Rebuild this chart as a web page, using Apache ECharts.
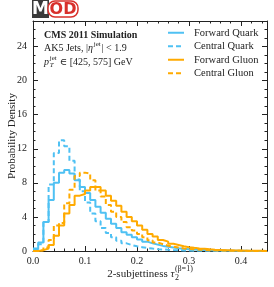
<!DOCTYPE html>
<html><head><meta charset="utf-8">
<script src="https://cdn.jsdelivr.net/npm/echarts@6/dist/echarts.min.js"></script>
<style>html,body{margin:0;padding:0;background:#fff}#c{width:274px;height:287px}</style>
</head><body><div id="c"></div>
<script>
// bin width 0.01, left edges start at 0.0
var binWidth = 0.01;
var xTicks = ['0.0','0.1','0.2','0.3','0.4'];
var yTicks = [0,4,8,12,16,20,24];
var seriesNames = ['Forward Quark','Central Quark','Forward Gluon','Central Gluon'];
var forwardQuark = [0.2,1.0,3.4,6.0,8.0,9.2,9.5,9.1,8.3,7.5,6.8,6.0,5.2,4.5,3.8,3.2,2.7,2.2,1.9,1.6,1.35,1.1,0.9,0.75,0.6,0.5,0.4,0.32,0.26,0.21,0.17,0.14,0.11,0.09,0.07,0.06,0.05,0.04,0.03,0.02,0.02,0.01,0.01,0.01,0.0];
var centralQuark = [0.3,0.8,3.4,7.8,11.5,13.0,12.3,10.6,8.4,7.0,5.7,4.4,3.5,2.7,2.1,1.6,1.2,0.9,0.7,0.55,0.45,0.35,0.28,0.22,0.18,0.14,0.11,0.09,0.07,0.05,0.04,0.03,0.03,0.02,0.02,0.01,0.01,0.01,0,0,0,0,0,0,0];
var forwardGluon = [0,0.1,0.3,0.7,1.8,3.0,4.4,5.4,6.5,6.7,7.1,7.5,7.5,7.1,6.5,5.9,5.3,4.6,4.0,3.5,3.0,2.5,2.0,1.7,1.3,1.1,0.85,0.7,0.55,0.45,0.37,0.3,0.25,0.2,0.16,0.13,0.1,0.08,0.06,0.05,0.04,0.03,0.02,0.02,0.01];
var centralGluon = [0,0.1,0.4,1.3,3.0,3.3,5.6,7.2,8.8,9.2,9.1,8.3,7.1,6.4,5.4,4.6,4.0,3.4,2.8,2.4,2.0,1.6,1.25,1.0,0.8,0.62,0.5,0.4,0.3,0.25,0.2,0.16,0.12,0.1,0.08,0.06,0.05,0.04,0.03,0.02,0.02,0.01,0.01,0.01,0];

var CYAN = '#4fc1f3', ORANGE = '#ffaa00', INK = '#222';
var SERIF = "'Liberation Serif','DejaVu Serif',serif";

var ctx = document.createElement('canvas').getContext('2d');
function tw(t, font){ ctx.font = font; return ctx.measureText(t).width; }

function hist(vals){
  var d = vals.map(function(v,i){ return [+(i*binWidth).toFixed(4), v]; });
  d.push([+(vals.length*binWidth).toFixed(4), vals[vals.length-1]]);
  return d;
}
function mk(name, vals, color, dashed){
  return {name:name, type:'line', step:'end', symbol:'none', data:hist(vals),
    lineStyle:{color:color, width:2, type: dashed ? [5,3] : 'solid'},
    itemStyle:{color:color}, animation:false, clip:true};
}
var xMin = 0, xMax = 0.45, yMin = 0, yMax = 27;
function xAx(pos, show){
  return {type:'value', position:pos, min:xMin, max:xMax, interval:0.1,
    axisLine:{show:true, onZero:false, lineStyle:{color:INK, width:1}},
    axisTick:{show:true, inside:true, length:5, lineStyle:{color:INK}},
    minorTick:{show:true, splitNumber:5, length:2.5, lineStyle:{color:INK}},
    splitLine:{show:false},
    axisLabel:{show:show, showMaxLabel:false, margin:5, color:INK, fontFamily:SERIF, fontSize:10,
      formatter:function(v){ var i=Math.round(v*10); return xTicks[i]!==undefined?xTicks[i]:''; }}};
}
function yAx(pos, show){
  return {type:'value', position:pos, min:yMin, max:yMax, interval:4,
    axisLine:{show:true, onZero:false, lineStyle:{color:INK, width:1}},
    axisTick:{show:true, inside:true, length:5, lineStyle:{color:INK}},
    minorTick:{show:true, splitNumber:4, length:2.5, lineStyle:{color:INK}},
    splitLine:{show:false},
    axisLabel:{show:show, showMaxLabel:false, margin:6, color:INK, fontFamily:SERIF, fontSize:10,
      formatter:function(v){ return yTicks.indexOf(v)>=0 ? String(v) : ''; }}};
}

var F10 = "10px "+SERIF, F10i = "italic 10px "+SERIF, F7 = "7px "+SERIF, F7i = "italic 7px "+SERIF;
var F11 = "11px "+SERIF, F11i = "italic 11px "+SERIF, F8 = "8px "+SERIF, F8i = "italic 8px "+SERIF;
function T(x, y, text, font, extra){
  var s = {text:text, fill:INK, font:font, verticalAlign:'middle'};
  if (extra) for (var k in extra) s[k] = extra[k];
  return {type:'text', x:x, y:y, style:s};
}
var g = [];
// logo
g.push({type:'rect', shape:{x:32, y:0, width:17, height:18}, style:{fill:'#3a3a3a'}});
g.push({type:'text', x:40.5, y:9.5, style:{text:'M', fill:'#fff', font:"bold 17px 'DejaVu Sans',sans-serif", align:'center', verticalAlign:'middle'}});
g.push({type:'rect', shape:{x:48, y:1, width:30, height:16, r:7}, style:{fill:'#fff', stroke:'#d8302b', lineWidth:1.5}});
g.push({type:'text', x:63, y:9.5, style:{text:'OD', fill:'#d8302b', font:"bold 16px 'DejaVu Sans',sans-serif", align:'center', verticalAlign:'middle'}});
// annotation
g.push(T(44, 35, 'CMS 2011 Simulation', "bold 10px "+SERIF));
var x = 44, p1 = 'AK5 Jets, |', y2 = 48.5;
g.push(T(x, y2, p1, F10)); x += tw(p1, F10);
g.push(T(x, y2, 'η', F10i)); x += tw('η', F10i) + 0.8;
g.push(T(x, y2-4, 'jet', F7)); x += tw('jet', F7) + 0.8;
g.push(T(x, y2, '| < 1.9', F10));
x = 44; var y3 = 62;
g.push(T(x, y3, 'p', F10i)); x += tw('p', F10i) + 0.8;
g.push(T(x, y3-4, 'jet', F7));
g.push(T(x, y3+3.5, 'T', F7i)); x += tw('jet', F7) + 3;
g.push(T(x, y3, '∈ [425, 575] GeV', F10));
// y label
g.push({type:'text', x:12, y:136, rotation:Math.PI/2, style:{text:'Probability Density', fill:INK, font:F11, align:'center', verticalAlign:'middle'}});
// x label
var xl = '2-subjettiness ', yL = 274;
var wMain = tw(xl, F11) + tw('τ', F11i) + 0.5 + tw('(β=1)', F8);
x = 150 - wMain/2;
g.push(T(x, yL, xl, F11)); x += tw(xl, F11);
g.push(T(x, yL, 'τ', F11i)); x += tw('τ', F11i) + 0.5;
g.push(T(x, yL+4, '2', F8));
g.push(T(x, yL-5, '(β=1)', F8));

var chart = echarts.init(document.getElementById('c'));
chart.setOption({
  animation:false,
  grid:{left:33, right:7, top:21, bottom:36},
  xAxis:[xAx('bottom', true), xAx('top', false)],
  yAxis:[yAx('left', true), yAx('right', false)],
  legend:{orient:'vertical', left:167, top:27, padding:0, itemWidth:16, itemHeight:8, itemGap:2,
    itemStyle:{opacity:0},
    textStyle:{fontFamily:SERIF, fontSize:10.5, color:INK, padding:[0,0,0,5], lineHeight:11.5},
    data:seriesNames},
  series:[mk(seriesNames[0], forwardQuark, CYAN, false), mk(seriesNames[1], centralQuark, CYAN, true),
          mk(seriesNames[2], forwardGluon, ORANGE, false), mk(seriesNames[3], centralGluon, ORANGE, true)],
  graphic:g
});
</script></body></html>
